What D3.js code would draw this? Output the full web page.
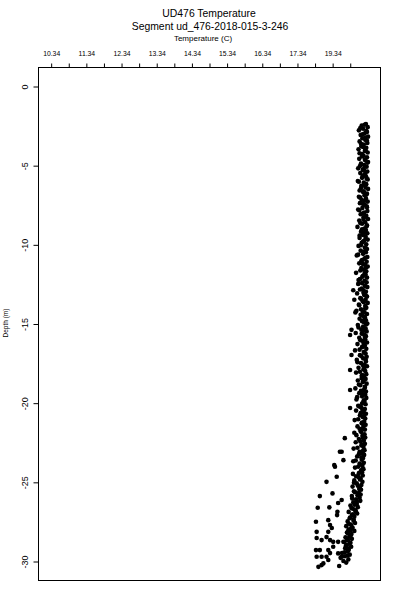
<!DOCTYPE html>
<html>
<head>
<meta charset="utf-8">
<script src="https://cdn.jsdelivr.net/npm/d3@7"></script>
<style>
  html, body { margin: 0; padding: 0; background: #fff; }
  svg { display: block; }
  text { font-family: "Liberation Sans", Arial, Helvetica, sans-serif; fill: #000; }
</style>
</head>
<body>
<svg id="chart" width="400" height="600"></svg>
<script>
// ---------------- DATA ----------------
const titleText = "UD476 Temperature";
const subtitleText = "Segment ud_476-2018-015-3-246";
const xAxisTitle = "Temperature (C)";
const yAxisTitle = "Depth (m)";

const tempTicks = [10.34, 10.84, 11.34, 11.84, 12.34, 12.84, 13.34, 13.84, 14.34, 14.84,
                   15.34, 15.84, 16.34, 16.84, 17.34, 17.84, 18.34, 18.84];
const tempTickLabels = ["10.34", "", "11.34", "", "12.34", "", "13.34", "", "14.34", "",
                        "15.34", "", "16.34", "", "17.34", "", "19.34", ""];
const depthTicks = [0, -5, -10, -15, -20, -25, -30];
const depthTickLabels = ["0", "-5", "-10", "-15", "-20", "-25", "-30"];

// main column of readings (depth m, temperature C)
const depth = [
 -2.4,-2.5,-2.6,-2.7,-2.8,-2.9,-3.0,-3.1,-3.2,-3.3,
 -3.4,-3.5,-3.6,-3.7,-3.8,-3.9,-4.0,-4.1,-4.2,-4.3,
 -4.4,-4.5,-4.6,-4.7,-4.8,-4.9,-5.0,-5.1,-5.2,-5.3,
 -5.4,-5.5,-5.6,-5.7,-5.8,-5.9,-6.0,-6.1,-6.2,-6.3,
 -6.4,-6.5,-6.6,-6.7,-6.8,-6.9,-7.0,-7.1,-7.2,-7.3,
 -7.4,-7.5,-7.6,-7.7,-7.8,-7.9,-8.0,-8.1,-8.2,-8.3,
 -8.4,-8.5,-8.6,-8.7,-8.8,-8.9,-9.0,-9.1,-9.2,-9.3,
 -9.4,-9.5,-9.6,-9.7,-9.8,-9.9,-10.0,-10.1,-10.2,-10.3,
 -10.4,-10.5,-10.6,-10.7,-10.8,-10.9,-11.0,-11.1,-11.2,-11.3,
 -11.4,-11.5,-11.6,-11.7,-11.8,-11.9,-12.0,-12.1,-12.2,-12.3,
 -12.4,-12.5,-12.6,-12.7,-12.8,-12.9,-13.0,-13.1,-13.2,-13.3,
 -13.4,-13.5,-13.6,-13.7,-13.8,-13.9,-14.0,-14.1,-14.2,-14.3,
 -14.4,-14.5,-14.6,-14.7,-14.8,-14.9,-15.0,-15.1,-15.2,-15.3,
 -15.4,-15.5,-15.6,-15.7,-15.8,-15.9,-16.0,-16.1,-16.2,-16.3,
 -16.4,-16.5,-16.6,-16.7,-16.8,-16.9,-17.0,-17.1,-17.2,-17.3,
 -17.4,-17.5,-17.6,-17.7,-17.8,-17.9,-18.0,-18.1,-18.2,-18.3,
 -18.4,-18.5,-18.6,-18.7,-18.8,-18.9,-19.0,-19.1,-19.2,-19.3,
 -19.4,-19.5,-19.6,-19.7,-19.8,-19.9,-20.0,-20.1,-20.2,-20.3,
 -20.4,-20.5,-20.6,-20.7,-20.8,-20.9,-21.0,-21.1,-21.2,-21.3,
 -21.4,-21.5,-21.6,-21.7,-21.8,-21.9,-22.0,-22.1,-22.2,-22.3,
 -22.4,-22.5,-22.6,-22.7,-22.8,-22.9,-23.0,-23.1,-23.2,-23.3,
 -23.4,-23.5,-23.6,-23.7,-23.8,-23.9,-24.0,-24.1,-24.2,-24.3,
 -24.4,-24.5,-24.6,-24.7,-24.8,-24.9,-25.0,-25.1,-25.2,-25.3,
 -25.4,-25.5,-25.6,-25.7,-25.8,-25.9,-26.0,-26.1,-26.2,-26.3,
 -26.4,-26.5,-26.6,-26.7,-26.8,-26.9,-27.0,-27.1,-27.2,-27.3,
 -27.4,-27.5,-27.6,-27.7,-27.8,-27.9,-28.0,-28.1,-28.2,-28.3,
 -28.4,-28.5,-28.6,-28.7,-28.8,-28.9,-29.0,-29.1,-29.2,-29.3,
 -29.4,-29.5,-29.6,-29.7,-29.8,-29.9,-30.0,-30.1
];
const temperature = [
 19.30,19.18,19.35,19.22,19.10,19.33,19.26,19.15,19.36,19.20,
 19.28,19.12,19.34,19.24,19.17,19.31,19.09,19.27,19.35,19.19,
 19.23,19.33,19.11,19.29,19.36,19.16,19.25,19.32,19.08,19.21,
 19.34,19.14,19.27,19.30,19.19,19.35,19.07,19.24,19.31,19.17,
 19.29,19.36,19.12,19.22,19.33,19.26,19.10,19.30,19.18,19.35,
 19.13,19.27,19.32,19.20,19.08,19.34,19.25,19.15,19.31,19.23,
 19.36,19.11,19.28,19.19,19.33,19.06,19.26,19.30,19.16,19.34,
 19.21,19.29,19.12,19.35,19.24,19.18,19.31,19.09,19.27,19.33,
 19.15,19.30,19.22,19.04,19.34,19.26,19.19,19.32,19.11,19.28,
 19.35,19.17,19.24,19.31,19.02,19.29,19.21,19.33,19.13,19.26,
 19.32,19.08,19.27,19.34,19.18,19.23,19.30,19.05,19.25,19.33,
 19.14,19.29,19.21,19.35,19.10,19.28,19.31,19.16,19.03,19.26,
 19.33,19.20,19.27,19.12,19.30,19.24,19.34,19.07,19.22,19.29,
 19.17,19.32,19.01,19.25,19.30,19.11,19.28,19.21,19.33,19.06,
 19.27,19.19,19.31,18.99,19.24,19.29,19.13,19.32,19.22,19.04,
 19.30,19.16,19.26,19.33,19.09,19.23,19.28,19.02,19.31,19.18,
 19.25,19.29,19.07,19.21,19.32,19.14,19.27,19.00,19.24,19.30,
 19.11,19.28,19.19,19.31,19.03,19.26,19.22,19.29,19.08,19.17,
 19.27,19.02,19.24,19.30,19.13,19.21,19.28,18.98,19.25,19.18,
 19.29,19.06,19.22,19.27,19.15,18.97,19.26,19.20,19.28,19.10,
 19.24,19.01,19.27,19.17,19.23,18.95,19.26,19.12,19.21,19.25,
 19.05,19.22,19.18,18.94,19.24,19.13,19.20,18.99,19.23,19.16,
 19.19,18.93,19.21,19.09,19.15,18.97,19.20,19.04,19.17,18.92,
 19.13,19.16,18.96,19.10,19.15,18.90,19.12,19.02,19.14,18.94,
 19.04,18.86,19.07,18.93,19.00,18.81,19.05,18.90,18.97,18.84,
 18.95,18.78,18.99,18.87,18.74,18.92,18.83,18.97,18.76,18.89,
 18.86,18.72,18.90,18.79,18.69,18.84,18.75,18.88,18.71,18.81,
 18.78,18.62,18.84,18.70,18.58,18.80,18.66,18.74
];

// second pass of readings in the same column (in-between depths)
const depth2 = [
 -2.45,-2.65,-2.85,-3.05,-3.25,-3.45,-3.65,-3.85,-4.05,-4.25,
 -4.45,-4.65,-4.85,-5.05,-5.25,-5.45,-5.65,-5.85,-6.05,-6.25,
 -6.45,-6.65,-6.85,-7.05,-7.25,-7.45,-7.65,-7.85,-8.05,-8.25,
 -8.45,-8.65,-8.85,-9.05,-9.25,-9.45,-9.65,-9.85,-10.05,-10.25,
 -10.45,-10.65,-10.85,-11.05,-11.25,-11.45,-11.65,-11.85,-12.05,-12.25,
 -12.45,-12.65,-12.85,-13.05,-13.25,-13.45,-13.65,-13.85,-14.05,-14.25,
 -14.45,-14.65,-14.85,-15.05,-15.25,-15.45,-15.65,-15.85,-16.05,-16.25,
 -16.45,-16.65,-16.85,-17.05,-17.25,-17.45,-17.65,-17.85,-18.05,-18.25,
 -18.45,-18.65,-18.85,-19.05,-19.25,-19.45,-19.65,-19.85,-20.05,-20.25,
 -20.45,-20.65,-20.85,-21.05,-21.25,-21.45,-21.65,-21.85,-22.05,-22.25,
 -22.45,-22.65,-22.85,-23.05,-23.25,-23.45,-23.65,-23.85,-24.05,-24.25,
 -24.45,-24.65,-24.85,-25.05,-25.25,-25.45,-25.65,-25.85,-26.05,-26.25,
 -26.45,-26.65,-26.85,-27.05,-27.25,-27.45,-27.65,-27.85,-28.05,-28.25,
 -28.45,-28.65,-28.85,-29.05,-29.25,-29.45,-29.65
];
const temperature2 = [
 19.26,19.14,19.31,19.20,19.28,19.33,19.16,19.22,19.29,19.12,
 19.19,19.27,19.34,19.13,19.24,19.29,19.21,19.32,19.10,19.26,
 19.16,19.24,19.31,19.14,19.27,19.22,19.33,19.11,19.20,19.29,
 19.23,19.14,19.32,19.19,19.25,19.12,19.29,19.21,19.16,19.30,
 19.24,19.08,19.29,19.17,19.22,19.31,19.14,19.26,19.20,19.09,
 19.19,19.28,19.13,19.23,19.30,19.17,19.24,19.11,19.28,19.21,
 19.15,19.26,19.19,19.31,19.09,19.23,19.18,19.27,19.14,19.24,
 19.20,19.12,19.26,19.17,19.29,19.06,19.22,19.25,19.13,19.20,
 19.18,19.23,19.10,19.27,19.16,19.21,19.05,19.24,19.19,19.13,
 19.20,19.15,19.24,19.08,19.19,19.23,19.12,19.17,19.03,19.22,
 19.14,19.19,19.06,19.21,19.10,19.17,19.01,19.12,19.08,19.18,
 19.10,19.02,19.13,18.96,19.07,19.11,18.99,19.06,18.91,19.04,
 18.98,18.89,19.01,18.93,18.85,18.95,18.81,18.90,18.86,18.79,
 18.83,18.76,18.86,18.73,18.80,18.69,18.77
];

// scattered readings away from the main column
const outlierDepth = [
 -12.9,-13.5,-14.3,-15.4,-15.73,-16.99,-17.94,-19.2,-20.34,-22.24,
 -23.1,-23.1,-23.63,-23.94,-24.05,-24.68,-25.0,-25.73,-25.9,-26.15,
 -26.34,-26.61,-26.64,-26.89,-27.1,-27.42,-27.52,-27.73,-27.92,-28.05,
 -28.16,-28.16,-28.47,-28.49,-28.55,-28.68,-28.68,-28.79,-28.79,-28.79,
 -29.1,-29.1,-29.31,-29.31,-29.31,-29.5,-29.52,-29.73,-29.73,-29.73,
 -29.73,-29.94,-30.15,-30.26,-30.32,-30.37
];
const outlierTemperature = [
 18.94,18.97,19.00,18.89,18.85,18.89,18.85,18.85,18.85,18.70,
 18.61,18.56,18.66,18.40,18.42,18.47,18.18,18.35,17.99,18.61,
 18.51,18.26,17.93,18.49,18.48,18.23,17.88,18.28,18.33,18.80,
 17.90,18.23,18.85,18.18,17.90,18.04,18.28,18.37,18.51,18.66,
 18.37,18.75,17.88,17.99,18.23,18.28,18.51,17.90,18.04,18.18,
 18.61,18.23,18.09,18.04,18.54,17.95
];

// ---------------- CHART ----------------
const svg = d3.select("#chart");
const plot = { left: 38, right: 380, top: 67, bottom: 580 };

const x = d3.scaleLinear().domain([9.98, 19.70]).range([plot.left, plot.right]);
const y = d3.scaleLinear().domain([1.2, -31.2]).range([plot.top, plot.bottom]);

const points = depth.map((d, i) => ({ d, t: temperature[i] }))
  .concat(depth2.map((d, i) => ({ d, t: temperature2[i] })))
  .concat(outlierDepth.map((d, i) => ({ d, t: outlierTemperature[i] })));

svg.append("g")
  .selectAll("circle")
  .data(points)
  .enter().append("circle")
  .attr("cx", p => x(p.t))
  .attr("cy", p => y(p.d))
  .attr("r", 2.3)
  .attr("fill", "#000");

// box
svg.append("rect")
  .attr("x", plot.left + 0.5).attr("y", plot.top + 0.5)
  .attr("width", plot.right - plot.left).attr("height", plot.bottom - plot.top)
  .attr("fill", "none").attr("stroke", "#000").attr("stroke-width", 1);

// top axis
const topAxis = svg.append("g")
  .attr("transform", `translate(0.5,${plot.top + 0.5})`)
  .call(d3.axisTop(x).tickValues(tempTicks).tickSize(4).tickPadding(8)
        .tickFormat((d, i) => tempTickLabels[i]));
topAxis.select(".domain").remove();
topAxis.selectAll("line").attr("stroke", "#000");
topAxis.selectAll("text").attr("font-size", "6.8px").attr("font-family", null);

// left axis
const leftAxis = svg.append("g")
  .attr("transform", `translate(${plot.left + 0.5},0.5)`)
  .call(d3.axisLeft(y).tickValues(depthTicks).tickSize(5)
        .tickFormat((d, i) => depthTickLabels[i]));
leftAxis.select(".domain").remove();
leftAxis.selectAll("line").attr("stroke", "#000");
leftAxis.selectAll("text")
  .attr("x", null).attr("dy", null)
  .attr("text-anchor", "middle")
  .attr("transform", "translate(-11,0) rotate(-90)")
  .attr("font-size", "9px").attr("font-family", null);

// titles
svg.append("text").attr("x", 209).attr("y", 17).attr("text-anchor", "middle")
  .attr("font-size", "10.4px").text(titleText);
svg.append("text").attr("x", 210).attr("y", 29.5).attr("text-anchor", "middle")
  .attr("font-size", "10.4px").text(subtitleText);
svg.append("text").attr("x", 203).attr("y", 40.5).attr("text-anchor", "middle")
  .attr("font-size", "8px").text(xAxisTitle);
svg.append("text").attr("transform", "translate(8,323) rotate(-90)")
  .attr("text-anchor", "middle").attr("font-size", "6.5px").text(yAxisTitle);
</script>
</body>
</html>
